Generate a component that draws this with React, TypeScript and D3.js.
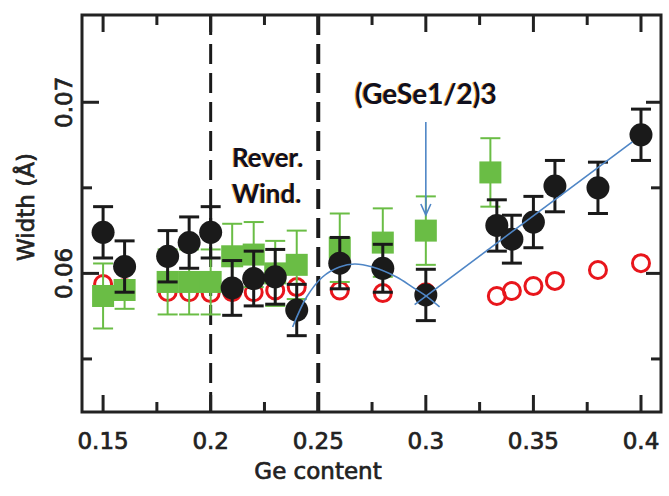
import { useEffect, useRef } from "react";
import * as d3 from "d3";

// Ge content of each sample
const blackX = [0.15, 0.16, 0.18, 0.19, 0.2, 0.21, 0.22, 0.23, 0.24, 0.26, 0.28, 0.3, 0.333, 0.34, 0.35, 0.36, 0.38, 0.4];
const blackY = [0.0624, 0.0604, 0.061, 0.0618, 0.0624, 0.05915, 0.0597, 0.0598, 0.05786, 0.0606, 0.0603, 0.05874, 0.0628, 0.062, 0.063, 0.0651, 0.065, 0.0681];
const blackErr = [0.0015, 0.0015, 0.0015, 0.0015, 0.0015, 0.0016, 0.0016, 0.0016, 0.0015, 0.0015, 0.0014, 0.0015, 0.0015, 0.0014, 0.0015, 0.0015, 0.0015, 0.0015];

const redX = blackX;
const redY = [0.05938, 0.05915, 0.05891, 0.0589, 0.05885, 0.0589, 0.0589, 0.059, 0.0592, 0.059, 0.05885, 0.0589, 0.05868, 0.05897, 0.05926, 0.05956, 0.0602, 0.0606];

const greenX = [0.15, 0.16, 0.18, 0.19, 0.2, 0.21, 0.22, 0.23, 0.24, 0.26, 0.28, 0.3, 0.33];
const greenY = [0.05868, 0.05903, 0.0595, 0.0595, 0.0595, 0.061, 0.0611, 0.06, 0.0605, 0.0615, 0.0618, 0.0625, 0.0659];
const greenErr = [0.0019, 0.0011, 0.0019, 0.0019, 0.0019, 0.0019, 0.0019, 0.0019, 0.002, 0.002, 0.002, 0.002, 0.002];

// guide curve and line (blue)
const fitX = [0.2381, 0.2446, 0.252, 0.2599, 0.2669, 0.2752, 0.2864, 0.2938, 0.2994, 0.3064];
const fitY = [0.05687, 0.05862, 0.05979, 0.06037, 0.06055, 0.06037, 0.05979, 0.0592, 0.05874, 0.05804];
const lineX = [0.2948, 0.396];
const lineY = [0.05818, 0.06768];

const xMajor = [0.15, 0.2, 0.25, 0.3, 0.35, 0.4];
const xMinor = [0.175, 0.225, 0.275, 0.325, 0.375];
const yMajor = [0.06, 0.07];
const yMinor = [0.055, 0.065];
const dashedX = [0.2, 0.25];

function App() {
  const ref = useRef<SVGSVGElement>(null);

  useEffect(() => {
    const svg = d3.select(ref.current);
    svg.selectAll("*").remove();

    const left = 82, right = 661, top = 15, bottom = 412;
    const x = d3.scaleLinear([0.1402, 0.4093], [left, right]);
    const y = d3.scaleLinear([0.0519, 0.0751], [bottom, top]);
    const ink = "#222";
    const font = "'DejaVu Sans', sans-serif";

    // dashed region lines
    dashedX.forEach((d, i) => {
      svg.append("line")
        .attr("x1", x(d)).attr("x2", x(d))
        .attr("y1", top).attr("y2", bottom)
        .attr("stroke", "#1a1a1a").attr("stroke-width", i === 0 ? 3 : 4)
        .attr("stroke-dasharray", "20,9");
    });

    // red open circles
    redX.forEach((d, i) => {
      svg.append("circle")
        .attr("cx", x(d)).attr("cy", y(redY[i])).attr("r", 8.5)
        .attr("fill", "none").attr("stroke", "#e8161c").attr("stroke-width", 3);
    });

    // green squares with error bars
    const capG = 10;
    greenX.forEach((d, i) => {
      const cx = x(d);
      const y0 = y(greenY[i] - greenErr[i]);
      const y1 = y(greenY[i] + greenErr[i]);
      const g = svg.append("g").attr("stroke", "#6abd45").attr("stroke-width", 2);
      g.append("line").attr("x1", cx).attr("x2", cx).attr("y1", y0).attr("y2", y1);
      g.append("line").attr("x1", cx - capG).attr("x2", cx + capG).attr("y1", y0).attr("y2", y0);
      g.append("line").attr("x1", cx - capG).attr("x2", cx + capG).attr("y1", y1).attr("y2", y1);
      svg.append("rect")
        .attr("x", cx - 11).attr("y", y(greenY[i]) - 11)
        .attr("width", 22).attr("height", 22)
        .attr("fill", "#6abd45");
    });

    // black circles with error bars
    const capB = 10;
    blackX.forEach((d, i) => {
      const cx = x(d);
      const y0 = y(blackY[i] - blackErr[i]);
      const y1 = y(blackY[i] + blackErr[i]);
      const g = svg.append("g").attr("stroke", "#1a1a1a").attr("stroke-width", 3);
      g.append("line").attr("x1", cx).attr("x2", cx).attr("y1", y0).attr("y2", y1);
      g.append("line").attr("x1", cx - capB).attr("x2", cx + capB).attr("y1", y0).attr("y2", y0);
      g.append("line").attr("x1", cx - capB).attr("x2", cx + capB).attr("y1", y1).attr("y2", y1);
      svg.append("circle")
        .attr("cx", cx).attr("cy", y(blackY[i])).attr("r", 11.5)
        .attr("fill", "#1a1a1a");
    });

    // blue guides
    const blue = "#4f86c6";
    const curve = d3.line<number>()
      .x((d) => x(d))
      .y((_, i) => y(fitY[i]))
      .curve(d3.curveCatmullRom);
    svg.append("path").attr("d", curve(fitX)).attr("fill", "none")
      .attr("stroke", blue).attr("stroke-width", 1.6);
    const straight = d3.line<number>()
      .x((d) => x(d))
      .y((_, i) => y(lineY[i]));
    svg.append("path").attr("d", straight(lineX)).attr("fill", "none")
      .attr("stroke", blue).attr("stroke-width", 1.6);

    // arrow to (GeSe1/2)3
    const ax = x(0.3);
    svg.append("line").attr("x1", ax).attr("x2", ax).attr("y1", 122).attr("y2", 215)
      .attr("stroke", blue).attr("stroke-width", 1.6);
    svg.append("path")
      .attr("d", `M${ax - 5},${204} L${ax},${215} L${ax + 5},${204}`)
      .attr("fill", "none").attr("stroke", blue).attr("stroke-width", 1.6);

    // frame
    svg.append("rect")
      .attr("x", left).attr("y", top)
      .attr("width", right - left).attr("height", bottom - top)
      .attr("fill", "none").attr("stroke", ink).attr("stroke-width", 3);

    // ticks on all four sides
    const tick = (x1: number, y1: number, x2: number, y2: number) =>
      svg.append("line").attr("x1", x1).attr("y1", y1).attr("x2", x2).attr("y2", y2)
        .attr("stroke", ink).attr("stroke-width", 3);
    xMajor.forEach((d) => { tick(x(d), bottom, x(d), bottom - 17); tick(x(d), top, x(d), top + 17); });
    xMinor.forEach((d) => { tick(x(d), bottom, x(d), bottom - 10); tick(x(d), top, x(d), top + 10); });
    yMajor.forEach((d) => { tick(left, y(d), left + 17, y(d)); tick(right, y(d), right - 15, y(d)); });
    yMinor.forEach((d) => { tick(left, y(d), left + 10, y(d)); tick(right, y(d), right - 10, y(d)); });

    const label = (sel: d3.Selection<SVGTextElement, unknown, null, undefined>) =>
      sel.attr("font-family", font).attr("font-size", 23)
        .attr("fill", ink).attr("stroke", ink).attr("stroke-width", 0.7);

    // tick labels
    xMajor.forEach((d) => {
      label(svg.append("text")
        .attr("x", x(d)).attr("y", 449)
        .attr("text-anchor", "middle")
        .text(String(d)));
    });
    yMajor.forEach((d) => {
      label(svg.append("text")
        .attr("transform", `translate(72,${y(d)}) rotate(-90)`)
        .attr("text-anchor", "middle")
        .text(String(d)));
    });

    // axis titles
    label(svg.append("text")
      .attr("x", 318).attr("y", 479)
      .attr("text-anchor", "middle")
      .attr("font-size", 22)
      .text("Ge content"));
    label(svg.append("text")
      .attr("transform", `translate(34,${207}) rotate(-90)`)
      .attr("text-anchor", "middle")
      .attr("font-size", 22)
      .text("Width (Å)"));

    // annotations
    const note = (tx: number, ty: number, s: string, size: number) => {
      svg.append("text").attr("x", tx - 1).attr("y", ty)
        .attr("font-family", "Lato, sans-serif").attr("font-size", size).attr("font-weight", "bold")
        .attr("fill", "#e8a040").text(s);
      svg.append("text").attr("x", tx).attr("y", ty)
        .attr("font-family", "Lato, sans-serif").attr("font-size", size).attr("font-weight", "bold")
        .attr("fill", "#0f1020").text(s);
    };
    note(232, 167, "Rever.", 26);
    note(232, 203, "Wind.", 26);
    note(355, 104, "(GeSe1/2)3", 28);

    return () => {
      svg.selectAll("*").remove();
    };
  }, []);

  return (
    <svg
      ref={ref}
      width={669}
      height={496}
      style={{ position: "absolute", left: 0, top: 0, background: "#fff" }}
    />
  );
}

export default App;
